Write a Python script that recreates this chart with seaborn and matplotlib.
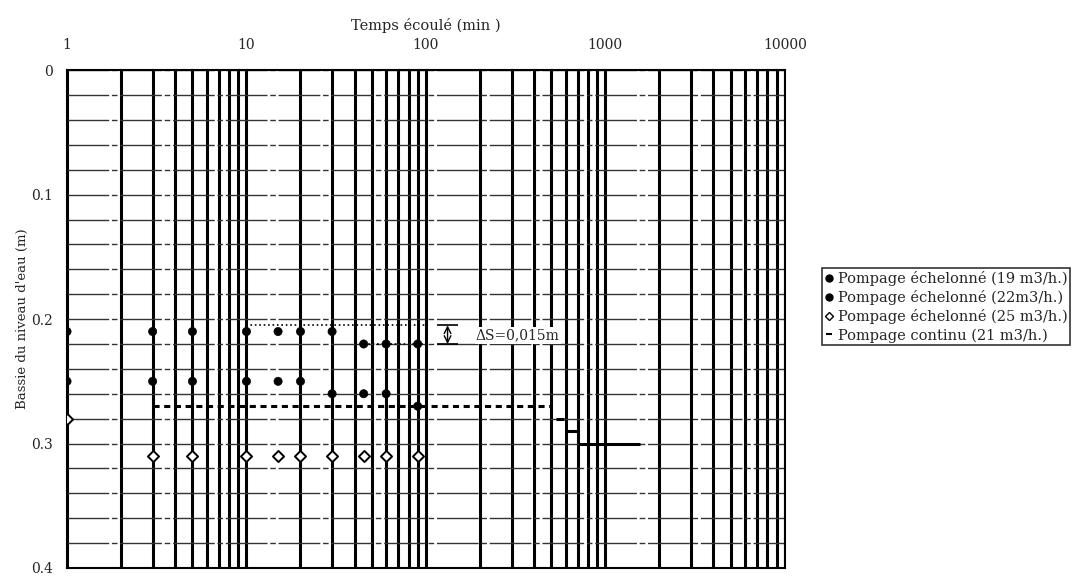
import numpy as np
import pandas as pd
import seaborn as sns
import matplotlib.pyplot as plt
from matplotlib.lines import Line2D

# temps (min) et baisse du niveau (m)
temps = [1, 3, 5, 10, 15, 20, 30, 45, 60, 90]
baisse_19 = [0.21, 0.21, 0.21, 0.21, 0.21, 0.21, 0.21, 0.22, 0.22, 0.22]
baisse_22 = [0.25, 0.25, 0.25, 0.25, 0.25, 0.25, 0.26, 0.26, 0.26, 0.27]
baisse_25 = [0.28, 0.31, 0.31, 0.31, 0.31, 0.31, 0.31, 0.31, 0.31, 0.31]

# pompage continu : paliers
continu_debut = [3, 530, 600, 700]
continu_fin = [500, 590, 700, 1550]
continu_niveau = [0.27, 0.28, 0.29, 0.30]

# delta S
ds_niveaux = [0.205, 0.22]
ds_debut = [10, 40]
ds_fin = [100, 100]

labels = ["Pompage échelonné (19 m3/h.)", "Pompage échelonné (22m3/h.)",
          "Pompage échelonné (25 m3/h.)", "Pompage continu (21 m3/h.)"]
x_ticks = [1, 10, 100, 1000, 10000]
y_ticks = [0, 0.1, 0.2, 0.3, 0.4]
y_ticklabels = ["0", "0.1", "0.2", "0.3", "0.4"]

df = pd.DataFrame({"temps": temps * 3,
                   "baisse": baisse_19 + baisse_22 + baisse_25,
                   "serie": [labels[0]] * 10 + [labels[1]] * 10 + [labels[2]] * 10})

sns.set_theme(style="white")
plt.rcParams['font.family'] = ['DejaVu Serif']

fig = plt.figure(figsize=(10.81, 5.76), dpi=100)
ax = fig.add_axes([0.062, 0.014, 0.664, 0.864])

# grille
ax.set_xscale("log")
ax.set_xlim(1, 10000)
ax.set_ylim(0.4, 0)
xminor = [m * 10 ** k for k in range(4) for m in range(2, 10)]
ax.set_xticks(xminor, minor=True)
ax.set_yticks(np.arange(0, 0.401, 0.02), minor=True)
ax.grid(which="both", axis="x", color="black", lw=2.2)
ax.grid(which="both", axis="y", color="#333333", lw=1.0, ls=(0, (30, 2, 4, 2)))
ax.set_axisbelow(True)
for sp in ax.spines.values():
    sp.set_color("black")
    sp.set_linewidth(1.5)

sns.scatterplot(data=df[df.serie != labels[2]], x="temps", y="baisse", hue="serie",
                palette=["black", "black"], s=35, edgecolor="black", legend=False, ax=ax, zorder=5)
sns.scatterplot(data=df[df.serie == labels[2]], x="temps", y="baisse", marker="D",
                color="white", edgecolor="black", linewidth=1.4, s=32, legend=False, ax=ax, zorder=5)

ax.hlines(continu_niveau, continu_debut, continu_fin, colors="black", lw=2.2,
          linestyles=[(0, (2, 1.5)), "-", "-", "-"], zorder=4)
ax.hlines(ds_niveaux, ds_debut, ds_fin, colors="black", lw=1.2, linestyles=":", zorder=4)
ax.hlines([0.205, 0.22], [115, 115], [150, 150], colors="black", lw=1.2)
ax.annotate("", xy=(132, 0.205), xytext=(132, 0.22),
            arrowprops=dict(arrowstyle="<->", lw=1, color="black", shrinkA=0, shrinkB=0))
ax.text(190, 0.213, "ΔS=0,015m", fontsize=10, va="center", ha="left",
        bbox=dict(facecolor="white", edgecolor="none", pad=1))

ax.xaxis.tick_top()
ax.xaxis.set_label_position("top")
ax.set_xticks(x_ticks)
ax.set_xticklabels([str(t) for t in x_ticks], fontsize=10)
ax.set_yticks(y_ticks)
ax.set_yticklabels(y_ticklabels, fontsize=10)
ax.tick_params(which="both", length=0)
ax.tick_params(axis="x", pad=13)
ax.tick_params(axis="y", pad=10)
ax.set_xlabel("Temps écoulé (min )", fontsize=10.5, labelpad=6)
ax.set_ylabel("Bassie du niveau d'eau (m)", fontsize=9.5, labelpad=2)

handles = [Line2D([], [], marker="o", ls="", color="black", markersize=5),
           Line2D([], [], marker="o", ls="", color="black", markersize=5),
           Line2D([], [], marker="D", ls="", color="black", markerfacecolor="white", markersize=4.5),
           Line2D([], [], marker="_", ls="", color="black", markersize=5, markeredgewidth=1.5)]
leg = fig.legend(handles, labels, loc="upper left", bbox_to_anchor=(0.760, 0.534),
                 fontsize=10.5, frameon=True, fancybox=False, edgecolor="black",
                 handlelength=0.6, handletextpad=0.3, borderpad=0.2, labelspacing=0.27,
                 borderaxespad=0)
leg.get_frame().set_linewidth(1.2)

fig.savefig("out.png", dpi=100)
